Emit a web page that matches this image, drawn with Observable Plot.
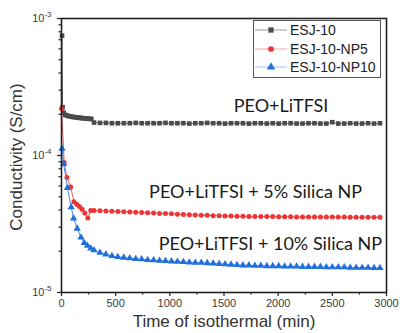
<!DOCTYPE html>
<html>
<head>
<meta charset="utf-8">
<script src="https://cdn.jsdelivr.net/npm/d3@7"></script>
<script src="https://cdn.jsdelivr.net/npm/@observablehq/plot@0.6"></script>
<style>
  body { margin: 0; background: #fff; }
  #chart { position: relative; width: 403px; height: 333px; }
</style>
</head>
<body>
<div id="chart"></div>
<script>
// Series names and styling keys
const seriesNames = ["ESJ-10", "ESJ-10-NP5", "ESJ-10-NP10"];

// Early (dense) readings for each sample: time in min, conductivity in S/cm
const esjHeadTime  = [5, 10, 20, 35, 50, 65, 80, 95, 110, 125, 140, 155, 170, 185, 200, 215, 230, 245, 260, 275];
const esjHeadValue = [7.5e-4, 2.25e-4, 2.05e-4, 1.98e-4, 1.96e-4, 1.94e-4, 1.93e-4, 1.92e-4, 1.91e-4, 1.90e-4,
                      1.90e-4, 1.89e-4, 1.88e-4, 1.88e-4, 1.87e-4, 1.87e-4, 1.86e-4, 1.86e-4, 1.85e-4, 1.85e-4];

const np5HeadTime  = [0, 25, 50, 85, 115, 140, 165, 190, 215, 243, 270];
const np5HeadValue = [2.2e-4, 8.9e-5, 6.9e-5, 5.9e-5, 4.6e-5, 4.4e-5, 4.25e-5, 4.05e-5, 3.8e-5, 3.5e-5, 3.97e-5];

const np10HeadTime  = [5, 20, 55, 90, 112, 145, 180, 210, 240, 270];
const np10HeadValue = [1.12e-4, 8.7e-5, 5.8e-5, 4.2e-5, 3.47e-5, 2.93e-5, 2.52e-5, 2.3e-5, 2.2e-5, 2.1e-5];

// Later readings, common sampling times (min)
const tailTime = [300, 355, 410, 465, 520, 575, 630, 685, 740, 795, 850, 905, 960, 1015, 1070, 1125, 1180, 1235,
                  1290, 1345, 1400, 1455, 1510, 1565, 1620, 1675, 1730, 1785, 1840, 1895, 1950, 2005, 2060, 2115,
                  2170, 2225, 2280, 2335, 2390, 2445, 2500, 2555, 2610, 2665, 2720, 2775, 2830, 2885, 2940];

// Later readings, in units of 1e-4 S/cm (ESJ-10) and 1e-5 S/cm (NP5, NP10)
const esjTail = [1.74, 1.73, 1.73, 1.72, 1.72, 1.72, 1.72, 1.73, 1.72, 1.72,
                 1.72, 1.72, 1.73, 1.72, 1.72, 1.72, 1.71, 1.72, 1.72, 1.73,
                 1.72, 1.72, 1.71, 1.72, 1.72, 1.72, 1.71, 1.72, 1.72, 1.71,
                 1.72, 1.71, 1.72, 1.72, 1.71, 1.71, 1.72, 1.72, 1.71, 1.71,
                 1.75, 1.71, 1.71, 1.72, 1.71, 1.71, 1.72, 1.71, 1.72];
const np5Tail = [3.96, 3.95, 3.93, 3.92, 3.90, 3.89, 3.87, 3.86, 3.84, 3.82,
                 3.80, 3.78, 3.77, 3.75, 3.73, 3.71, 3.70, 3.68, 3.67, 3.66,
                 3.64, 3.63, 3.62, 3.61, 3.60, 3.60, 3.59, 3.59, 3.58, 3.58,
                 3.58, 3.57, 3.57, 3.57, 3.56, 3.56, 3.56, 3.56, 3.55, 3.55,
                 3.55, 3.55, 3.55, 3.54, 3.54, 3.54, 3.54, 3.54, 3.54];
const np10Tail = [2.04, 1.95, 1.90, 1.85, 1.82, 1.80, 1.78, 1.76, 1.75, 1.73,
                  1.72, 1.71, 1.70, 1.69, 1.68, 1.67, 1.66, 1.65, 1.65, 1.64,
                  1.63, 1.62, 1.61, 1.60, 1.59, 1.58, 1.58, 1.57, 1.57, 1.56,
                  1.56, 1.56, 1.55, 1.55, 1.55, 1.54, 1.54, 1.54, 1.54, 1.53,
                  1.53, 1.53, 1.53, 1.52, 1.52, 1.52, 1.52, 1.51, 1.51];

// Axis ticks
const xMajorTicks = [0, 500, 1000, 1500, 2000, 2500, 3000];
const xMinorTicks = [250, 750, 1250, 1750, 2250, 2750];
const yMajorTicks = [1e-5, 1e-4, 1e-3];
const yMinorTicks = [2e-5, 3e-5, 4e-5, 5e-5, 6e-5, 7e-5, 8e-5, 9e-5,
                     2e-4, 3e-4, 4e-4, 5e-4, 6e-4, 7e-4, 8e-4, 9e-4];

// In-plot annotations: label, right-end time, vertical level
const noteText = ["PEO+LiTFSI", "PEO+LiTFSI + 5% Silica NP", "PEO+LiTFSI + 10% Silica NP"];
const noteTime = [2463, 2775, 2960];
const noteLevel = [2.30e-4, 5.39e-5, 2.24e-5];

// Build tidy rows per sample
function rowsFor(name, headT, headV, tailV, unit) {
  const rows = headT.map((t, i) => ({series: name, time: t, value: headV[i]}));
  tailTime.forEach((t, i) => rows.push({series: name, time: t, value: tailV[i] * unit}));
  return rows;
}
const esjRows  = rowsFor("ESJ-10", esjHeadTime, esjHeadValue, esjTail, 1e-4);
const np5Rows  = rowsFor("ESJ-10-NP5", np5HeadTime, np5HeadValue, np5Tail, 1e-5);
const np10Rows = rowsFor("ESJ-10-NP10", np10HeadTime, np10HeadValue, np10Tail, 1e-5);

const styles = {
  "ESJ-10":      {rows: esjRows,  symbol: "square",   r: 2.6, fill: "#4a4a4a", line: "#6a6a6a", legendLine: "#9a9a9a"},
  "ESJ-10-NP5":  {rows: np5Rows,  symbol: "circle",   r: 2.5, fill: "#ee3434", line: "#f25a5a", legendLine: "#f6a5a5"},
  "ESJ-10-NP10": {rows: np10Rows, symbol: "triangle", r: 2.7, fill: "#1f6fdc", line: "#4a88e2", legendLine: "#9fbff0"}
};

const notes = noteText.map((s, i) => ({text: s, time: noteTime[i], value: noteLevel[i]}));

const seriesMarks = seriesNames.flatMap(name => {
  const s = styles[name];
  return [
    Plot.line(s.rows, {x: "time", y: "value", stroke: s.line, strokeWidth: 1}),
    Plot.dot(s.rows, {x: "time", y: "value", symbol: s.symbol, r: s.r, fill: s.fill, stroke: "none"})
  ];
});

const chart = Plot.plot({
  width: 403,
  height: 333,
  marginLeft: 61,
  marginRight: 17,
  marginTop: 18,
  marginBottom: 41,
  style: {fontFamily: "'Liberation Sans', Arial, sans-serif", fontSize: "11px", color: "#3a3a3a", background: "#fff"},
  x: {domain: [0, 3000]},
  y: {type: "log", domain: [1e-5, 1e-3]},
  marks: [
    Plot.axisX({ticks: xMajorTicks, tickSize: 4, tickPadding: 3, tickFormat: d => String(d), label: null, stroke: "#222", strokeWidth: 1.2}),
    Plot.axisX({ticks: xMinorTicks, tickSize: 2.5, text: null, label: null, stroke: "#222", strokeWidth: 1.2}),
    Plot.axisY({ticks: yMajorTicks, tickSize: 4, tickPadding: 6, tickFormat: d => "10^" + Math.round(Math.log10(d)), label: null, stroke: "#222", strokeWidth: 1.2}),
    Plot.axisY({ticks: yMinorTicks, tickSize: 2.5, text: null, label: null, stroke: "#222", strokeWidth: 1.2}),
    ...seriesMarks,
    Plot.text(notes, {x: "time", y: "value", text: "text", textAnchor: "end", fontFamily: "Lato, 'Open Sans', sans-serif", fontSize: 18, fontWeight: 400, fill: "#1a1a1a"}),
    Plot.frame({stroke: "#222", strokeWidth: 1.6})
  ]
});

document.getElementById("chart").appendChild(chart);
const svg = d3.select(chart);

// Power-of-ten tick labels with superscript exponents
svg.selectAll("text").each(function() {
  const t = this.textContent;
  if (/^10\^-?\d+$/.test(t)) {
    const exp = t.split("^")[1];
    const el = d3.select(this);
    el.text(null);
    el.append("tspan").text("10");
    el.append("tspan").attr("dy", "-5").attr("font-size", "8px").text(exp);
  }
});

// Axis titles
svg.append("text")
  .attr("transform", "translate(22,157) rotate(-90)")
  .attr("text-anchor", "middle")
  .attr("font-family", "'Liberation Sans', Arial, sans-serif")
  .attr("font-size", "17px")
  .attr("fill", "#333")
  .text("Conductivity (S/cm)");
svg.append("text")
  .attr("x", 224)
  .attr("y", 327)
  .attr("text-anchor", "middle")
  .attr("font-family", "'Liberation Sans', Arial, sans-serif")
  .attr("font-size", "17px")
  .attr("fill", "#333")
  .text("Time of isothermal (min)");

// Legend box
const legend = svg.append("g")
  .attr("font-family", "'Liberation Sans', Arial, sans-serif")
  .attr("font-size", "14px")
  .attr("text-anchor", "start");
legend.append("rect")
  .attr("x", 253.5).attr("y", 20.5).attr("width", 127).attr("height", 57)
  .style("fill", "#fff").style("stroke", "#555").style("stroke-width", "1px");
const rowY = [30, 49, 67];
const symbolTypes = {square: d3.symbolSquare, circle: d3.symbolCircle, triangle: d3.symbolTriangle};
seriesNames.forEach((name, i) => {
  const s = styles[name];
  const g = legend.append("g").attr("transform", `translate(0,${rowY[i]})`);
  g.append("line").attr("x1", 255).attr("x2", 287).attr("y1", 0).attr("y2", 0)
    .style("stroke", s.legendLine).style("stroke-width", "1px");
  g.append("path").attr("transform", "translate(271,0)")
    .attr("d", d3.symbol(symbolTypes[s.symbol], Math.PI * s.r * s.r * 1.3)())
    .style("fill", s.fill);
  g.append("text").attr("x", 290).attr("y", 0).attr("dy", "0.36em")
    .attr("text-anchor", "start").style("fill", "#222").text(name);
});
</script>
</body>
</html>
